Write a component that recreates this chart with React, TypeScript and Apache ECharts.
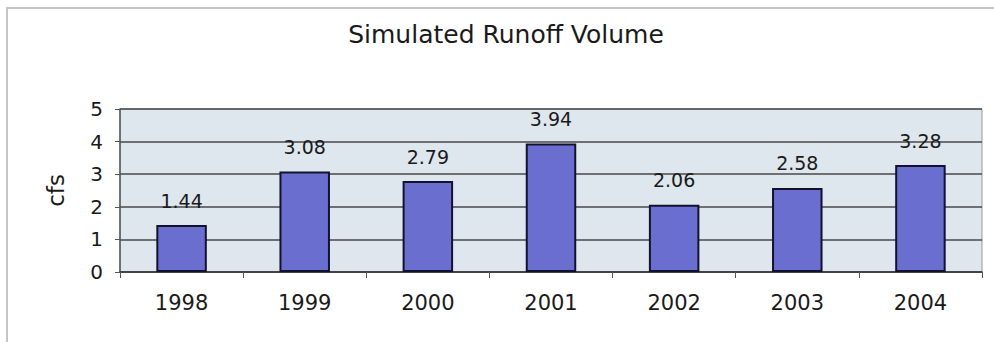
import React, { useEffect, useRef } from "react";
import * as echarts from "echarts";

const years: string[] = ["1998", "1999", "2000", "2001", "2002", "2003", "2004"];
const runoffCfs: number[] = [1.44, 3.08, 2.79, 3.94, 2.06, 2.58, 3.28];
const yTicks = { min: 0, max: 5, interval: 1 };

const FONT = "'DejaVu Sans', 'Liberation Sans', Arial, sans-serif";
const INK = "#1a1a1a";

export default function App() {
  const ref = useRef<HTMLDivElement>(null);

  useEffect(() => {
    document.body.style.margin = "0";
    if (!ref.current) return;
    const chart = echarts.init(ref.current, undefined, { renderer: "svg" });
    chart.setOption({
      animation: false,
      backgroundColor: "#ffffff",
      textStyle: { fontFamily: FONT },
      graphic: [
        {
          type: "rect",
          shape: { x: 7, y: 8, width: 1000, height: 400 },
          style: { fill: "none", stroke: "#c6c6c6", lineWidth: 2 },
          silent: true,
        },
        {
          type: "text",
          x: 506,
          y: 34,
          style: {
            text: "Simulated Runoff Volume",
            fontFamily: FONT,
            fontSize: 25,
            fill: INK,
            align: "center",
            verticalAlign: "middle",
          },
        },
      ],
      grid: {
        left: 120,
        right: 12,
        top: 109,
        bottom: 70,
        show: true,
        backgroundColor: "#dee6ee",
        borderColor: "#9a9a9a",
        borderWidth: 1,
      },
      xAxis: {
        type: "category",
        data: years,
        axisLine: { show: true, lineStyle: { color: "#3a3a3a", width: 1.5 } },
        axisTick: { show: true, length: 6, lineStyle: { color: "#555" } },
        axisLabel: { fontSize: 21, color: INK, margin: 20, fontFamily: FONT },
      },
      yAxis: {
        type: "value",
        min: yTicks.min,
        max: yTicks.max,
        interval: yTicks.interval,
        name: "cfs",
        nameLocation: "middle",
        nameGap: 53,
        nameRotate: 90,
        nameTextStyle: { fontSize: 23, color: INK, fontFamily: FONT },
        axisLine: { show: true, lineStyle: { color: "#555", width: 1.5 } },
        axisTick: { show: true, length: 5, lineStyle: { color: "#555" } },
        axisLabel: { fontSize: 20, color: INK, margin: 17, fontFamily: FONT },
        splitLine: { show: true, lineStyle: { color: "#474747", width: 1.5 } },
      },
      series: [
        {
          type: "bar",
          data: runoffCfs,
          barWidth: "41%",
          itemStyle: { color: "#6a6ecf", borderColor: "#12122e", borderWidth: 2 },
          label: {
            show: true,
            position: "top",
            distance: 15,
            fontSize: 19,
            color: INK,
            fontFamily: FONT,
            formatter: (p: any) => Number(p.value).toFixed(2),
          },
        },
      ],
    });
    return () => chart.dispose();
  }, []);

  return <div ref={ref} style={{ width: 994, height: 342 }} />;
}
